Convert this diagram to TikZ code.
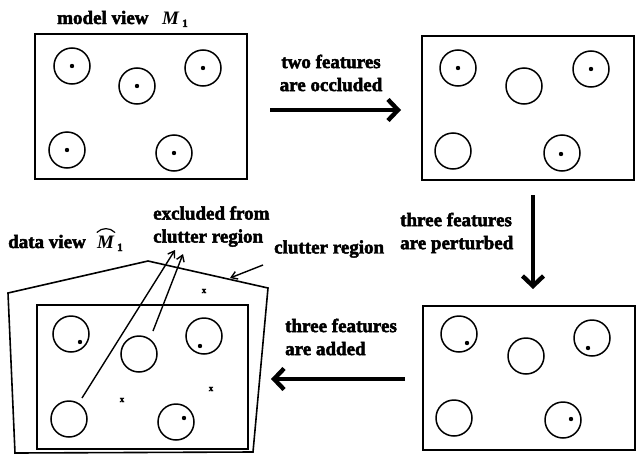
\documentclass[tikz,border=0pt]{standalone}
\usepackage{fontspec}
\setmainfont{Liberation Serif}
\usetikzlibrary{arrows.meta}
\newfontfamily\labfamily[BoldFont={Liberation Serif Bold}, BoldFeatures={FakeBold=2.5}, ItalicFeatures={FakeBold=2.5}]{Liberation Serif}
\newcommand{\labfont}{\labfamily\bfseries\fontsize{19}{23}\selectfont}
\begin{document}
\begin{tikzpicture}[x=1pt,y=-1pt,
  frame/.style={draw, line width=2pt, inner sep=0, anchor=north west},
  feat/.style={circle, draw, line width=1.5pt, minimum size=36pt, inner sep=0},
  pt/.style={circle, fill, inner sep=0, minimum size=4.4pt},
  lab/.style={font=\labfont, align=left, inner sep=0},
  sub/.style={font=\labfamily\bfseries\fontsize{11}{11}\selectfont, inner sep=0},
  xmark/.style={font=\labfamily\bfseries\fontsize{9}{9}\selectfont, inner sep=0},
  bigarrow/.style={line width=4.4pt, -{Straight Barb[length=10pt,width=21pt]}},
  thinarrow/.style={line width=1.4pt, -{Straight Barb[length=6pt,width=8pt]}}]
\useasboundingbox (0,0) rectangle (642,463);

% ---------- box 1: model view
\node[frame, minimum width=212pt, minimum height=145pt] (box1) at (34,33) {};
\node[feat] (a1) at (72,66) {};   \node[pt] (ad1) at (72,66) {};
\node[feat] (a2) at (137,86) {};  \node[pt] (ad2) at (137,86) {};
\node[feat] (a3) at (203,68) {};  \node[pt] (ad3) at (203,68) {};
\node[feat] (a4) at (67,150) {};  \node[pt] (ad4) at (67,150) {};
\node[feat] (a5) at (174,153) {}; \node[pt] (ad5) at (174,153) {};
\node[lab, anchor=base west] (t1) at (57,24) {model view};
\node[lab, anchor=base west] (t1m) at (162,24) {\textit{M}};
\node[sub, anchor=base west] (t1s) at (182,27) {1};

% ---------- box 2
\node[frame, minimum width=212pt, minimum height=144pt] (box2) at (421,35) {};
\node[feat] (b1) at (458,68) {};  \node[pt] (bd1) at (458,68) {};
\node[feat] (b2) at (524,86) {};
\node[feat] (b3) at (591,69) {};  \node[pt] (bd3) at (591,69) {};
\node[feat] (b4) at (453,151) {};
\node[feat] (b5) at (562,153) {}; \node[pt] (bd5) at (561,154) {};

% ---------- box 3
\node[frame, minimum width=212pt, minimum height=144pt] (box3) at (422,305) {};
\node[feat] (c1) at (459,334) {}; \node[pt] (cd1) at (467,343) {};
\node[feat] (c2) at (526,356) {};
\node[feat] (c3) at (592,338) {}; \node[pt] (cd3) at (588,348) {};
\node[feat] (c4) at (454,418) {};
\node[feat] (c5) at (563,420) {}; \node[pt] (cd5) at (571,419) {};

% ---------- box 4: data view
\draw[line width=1.6pt, line join=miter] (8,293) coordinate (p1) -- (148,261) coordinate (p2)
   -- (268,288) coordinate (p3) -- (253,452) coordinate (p4) -- (15,453) coordinate (p5) -- cycle;
\node[frame, minimum width=211pt, minimum height=144pt] (box4) at (36,304) {};
\node[feat] (d1) at (71,334) {};  \node[pt] (dd1) at (80,342) {};
\node[feat] (d2) at (139,354) {};
\node[feat] (d3) at (204,336) {}; \node[pt] (dd3) at (200,346) {};
\node[feat] (d4) at (69,419) {};
\node[feat] (d5) at (176,422) {}; \node[pt] (dd5) at (184,418) {};
\node[xmark] (x1) at (204,291) {x};
\node[xmark] (x2) at (211,389) {x};
\node[xmark] (x3) at (122,400) {x};

\node[lab, anchor=base west] (t4) at (8,248) {data view};
\node[lab, anchor=base west] (t4m) at (97,248) {\textit{M}};
\node[sub, anchor=base west] (t4s) at (117,251) {1};
\draw[line width=1.2pt, line cap=round] ([xshift=0pt,yshift=3pt]t4m.north west)
  .. controls ([xshift=5pt,yshift=8pt]t4m.north west) and ([xshift=-5pt,yshift=8pt]t4m.north east)
  .. ([xshift=0pt,yshift=3pt]t4m.north east);
\node[lab, anchor=north west] (ex) at (153,206) {excluded from\\clutter region};
\node[lab, anchor=west] (cr) at (274,249) {clutter region};
\coordinate (crs) at (263,265);
\coordinate (cre) at (230,278);
\draw[thinarrow] (crs) -- (cre);
\coordinate (s1) at (82,398);
\coordinate (e1) at (175,250);
\coordinate (s2) at (153,331);
\coordinate (e2) at (183,254);
\draw[thinarrow] (s1) -- (e1);
\draw[thinarrow] (s2) -- (e2);

% ---------- big arrows with labels
\coordinate (r1s) at (270,110); \coordinate (r1e) at (401,110);
\draw[bigarrow] (r1s) -- (r1e);
\node[lab, align=center] (l1) at (331,73) {two features\\are occluded};

\coordinate (r2s) at (533,195); \coordinate (r2e) at (533,289);
\draw[bigarrow] (r2s) -- (r2e);
\node[lab, anchor=west] (l2) at (400,233) {three features\\are perturbed};

\coordinate (r3s) at (405,379); \coordinate (r3e) at (271,379);
\draw[bigarrow] (r3s) -- (r3e);
\node[lab, anchor=west] (l3) at (285,337) {three features\\are added};
\end{tikzpicture}
\end{document}
